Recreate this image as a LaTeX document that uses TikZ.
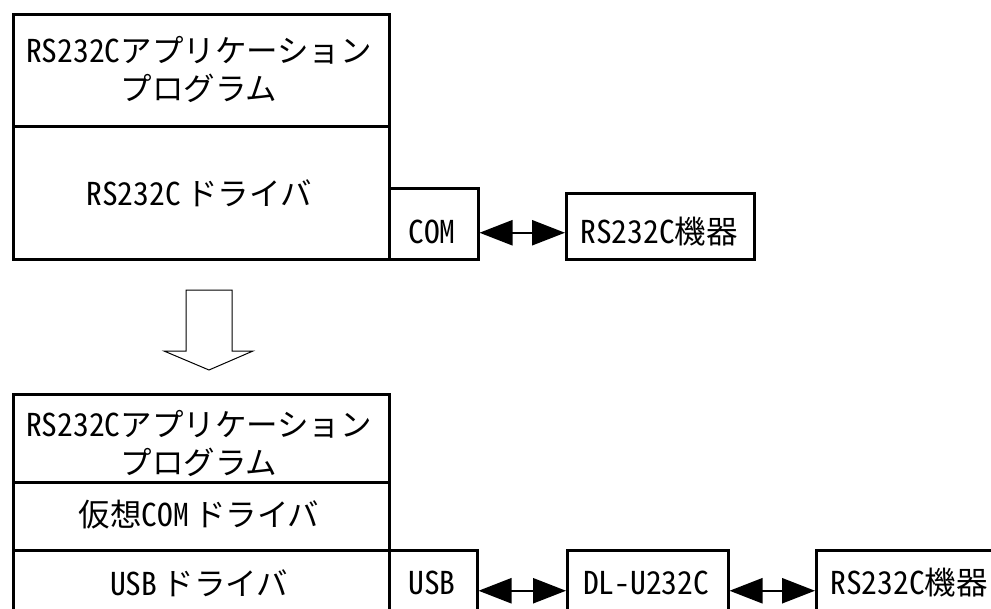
\documentclass[tikz,border=0pt]{standalone}
\usepackage{fontspec}
\setmainfont{Noto Sans CJK JP}
\newfontfamily\hw{Noto Sans CJK JP}[RawFeature=+hwid]
\usetikzlibrary{arrows.meta}
\tikzset{
  box/.style={draw, line width=2.5pt, inner sep=0pt},
  lbl/.style={inner sep=0pt, font=\fontsize{31.5}{38}\selectfont, align=center},
  dbl/.style={line width=2.5pt, {Triangle[length=33pt,width=25pt]}-{Triangle[length=33pt,width=25pt]}},
}
\begin{document}
\begin{tikzpicture}[x=1pt,y=-1pt]
\useasboundingbox (0,0) rectangle (991,608);
\clip (0,0) rectangle (991,608);
% top block
\node[box, anchor=north west, minimum width=376pt, minimum height=112pt] (app1) at (12,13) {};
\node[box, anchor=north west, minimum width=376pt, minimum height=133pt] (drv1) at (12,125) {};
\node[box, anchor=north west, minimum width=89pt, minimum height=71pt] (com) at (388,187) {};
\node[box, anchor=north west, minimum width=188pt, minimum height=66pt] (dev1) at (565,192) {};
\node[lbl] (t1) at (199,69) {{\hw RS232C}アプリケーション\\プログラム};
\node[lbl] (t2) at (199,193) {{\hw RS232C}\,ドライバ};
\node[lbl] (t3) at (432,232) {\hw COM};
\node[lbl] (t4) at (659,232) {{\hw RS232C}機器};
\draw[dbl] ([yshift=-9pt]com.east) -- ([yshift=-9pt]com.east -| dev1.west);
% hollow arrow
\draw[line width=1pt] (186,290) coordinate (ha1) -- (232,290) -- (232,351) -- (253,351) -- (209,370) -- (164,351) -- (186,351) -- cycle;
% bottom block
\node[box, anchor=north west, minimum width=376pt, minimum height=88pt] (app2) at (12,393) {};
\node[box, anchor=north west, minimum width=376pt, minimum height=68pt] (vdrv) at (12,481) {};
\node[box, anchor=north west, minimum width=376pt, minimum height=81pt] (udrv) at (12,549) {};
\node[box, anchor=north west, minimum width=88pt, minimum height=81pt] (usb) at (388,549) {};
\node[box, anchor=north west, minimum width=161pt, minimum height=81pt] (dl) at (566,549) {};
\node[box, anchor=north west, minimum width=190pt, minimum height=81pt] (dev2) at (815,549) {};
\node[lbl] (b1) at (199,443) {{\hw RS232C}アプリケーション\\プログラム};
\node[lbl] (b2) at (199,515) {仮想{\hw COM}\,ドライバ};
\node[lbl] (b3) at (199,583) {{\hw USB}\,ドライバ};
\node[lbl] (b4) at (432,583) {\hw USB};
\node[lbl] (b5) at (646,583) {\hw DL-U232C};
\node[lbl] (b6) at (909,583) {{\hw RS232C}機器};
\draw[dbl] (usb.east) -- (dl.west);
\draw[dbl] (dl.east) -- (dev2.west);
\end{tikzpicture}
\end{document}
